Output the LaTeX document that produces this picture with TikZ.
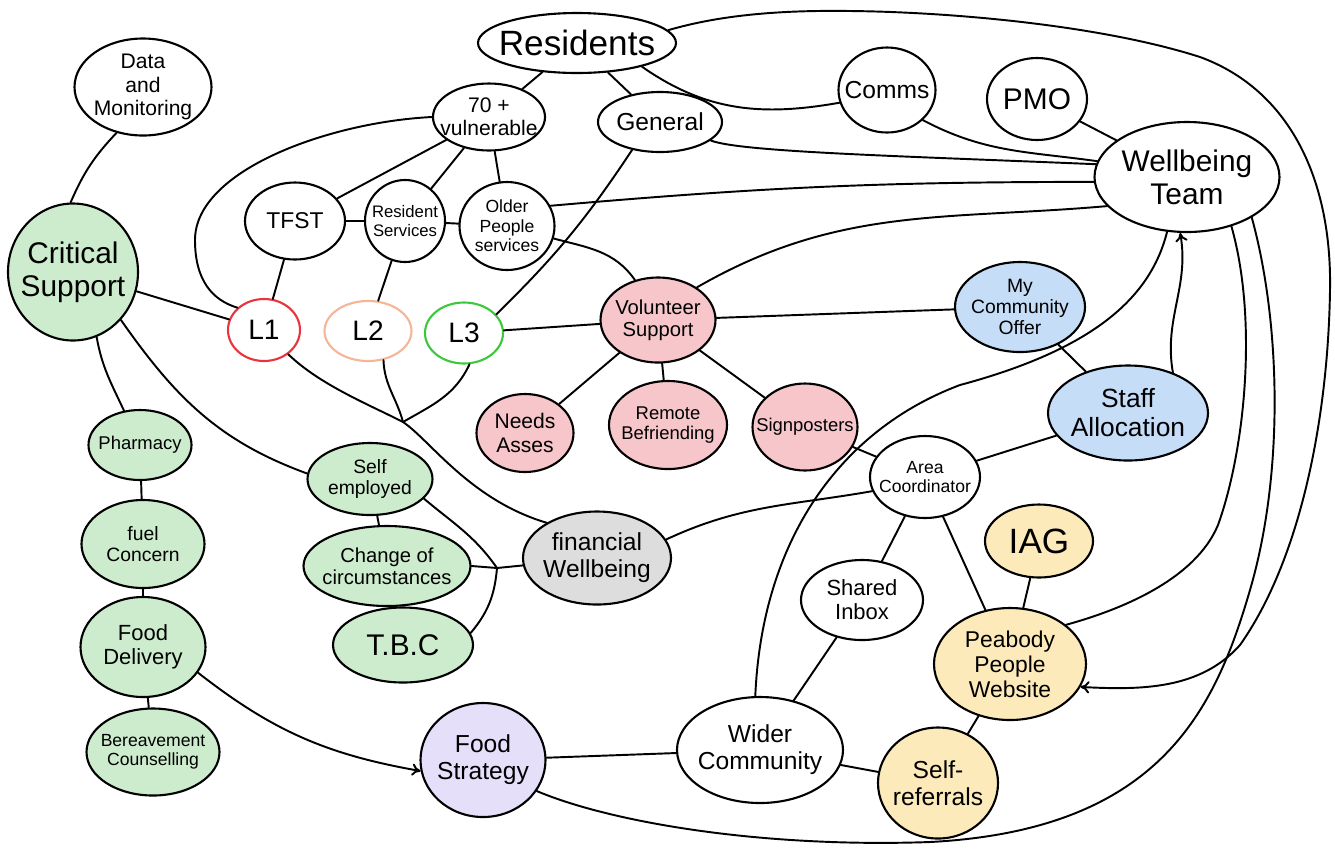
\documentclass[tikz,border=0pt]{standalone}
\usepackage{fontspec}
\setmainfont{Liberation Sans}
\usetikzlibrary{shapes.geometric,arrows.meta}
\definecolor{gfill}{RGB}{205,236,205}
\definecolor{pfill}{RGB}{246,198,202}
\definecolor{bfill}{RGB}{198,221,248}
\definecolor{grfill}{RGB}{221,221,221}
\definecolor{yfill}{RGB}{252,234,186}
\definecolor{vfill}{RGB}{229,223,250}
\definecolor{lred}{RGB}{232,52,60}
\definecolor{lorange}{RGB}{245,182,152}
\definecolor{lgreen}{RGB}{60,200,60}
\begin{document}
\begin{tikzpicture}[x=0.02cm,y=-0.02cm,
  bub/.style={ellipse,draw,line width=1.2pt,inner sep=-8pt,align=center},
  sz/.style 2 args={minimum width=#1*0.02cm,minimum height=#2*0.02cm},
  fsz/.style={font=\linespread{1.1}\fontsize{#1}{#1}\selectfont},
  grn/.style={fill=gfill},
  pnk/.style={fill=pfill},
  blu/.style={fill=bfill},
  gry/.style={fill=grfill},
  ylw/.style={fill=yfill},
  prp/.style={fill=vfill},
  link/.style={line width=1.1pt,line cap=round},
  tipend/.style={-{To[length=5pt,width=7pt]}},
  tipstart/.style={{To[length=5pt,width=7pt]}-}
]
\fill[white] (0,0) rectangle (1335,850);
\useasboundingbox (0,0) rectangle (1335,850);

% nodes
\node[bub,sz={137}{97},fsz=12] (dm) at (143,87) {Data\\and\\Monitoring};
\node[bub,grn,sz={130}{137},fsz=17] (cs) at (73,272) {Critical\\Support};
\node[bub,sz={198}{60},fsz=20] (res) at (577,43) {Residents};
\node[bub,sz={112}{67},fsz=12] (v70) at (489,117) {70 +\\vulnerable};
\node[bub,sz={124}{60},fsz=14] (gen) at (660,122) {General};
\node[bub,sz={97}{85},fsz=14] (comms) at (887,90) {Comms};
\node[bub,sz={100}{82},fsz=17] (pmo) at (1037,99) {PMO};
\node[bub,sz={185}{110},fsz=17] (wb) at (1187,177) {Wellbeing\\Team};
\node[bub,sz={100}{77},fsz=13] (tfst) at (295,221) {TFST};
\node[bub,sz={80}{82},fsz=9.5] (rs) at (405,221) {Resident\\Services};
\node[bub,sz={95}{88},fsz=10] (ops) at (507,226) {Older\\People\\services};
\node[bub,draw=lred,sz={72}{62},fsz=16] (l1) at (264,330) {L1};
\node[bub,draw=lorange,sz={87}{60},fsz=16] (l2) at (368,331) {L2};
\node[bub,draw=lgreen,sz={78}{61},fsz=16] (l3) at (464,333) {L3};
\node[bub,pnk,sz={115}{85},fsz=11.5] (vs) at (658,320) {Volunteer\\Support};
\node[bub,blu,sz={130}{90},fsz=11] (mco) at (1020,307) {My\\Community\\Offer};
\node[bub,blu,sz={160}{95},fsz=15] (sa) at (1128,413) {Staff\\Allocation};
\node[bub,pnk,sz={97}{78},fsz=12] (na) at (525,433) {Needs\\Asses};
\node[bub,pnk,sz={118}{88},fsz=10.5] (rb) at (668,425) {Remote\\Befriending};
\node[bub,pnk,sz={105}{87},fsz=10.5] (sp) at (805,427) {Signposters};
\node[bub,sz={110}{82},fsz=10] (ac) at (925,477) {Area\\Coordinator};
\node[bub,grn,sz={103}{70},fsz=10.5] (ph) at (140,445) {Pharmacy};
\node[bub,grn,sz={123}{88},fsz=11] (fc) at (143,544) {fuel\\Concern};
\node[bub,grn,sz={125}{100},fsz=12.5] (fd) at (143,647) {Food\\Delivery};
\node[bub,grn,sz={133}{87},fsz=10] (bc) at (153,752) {Bereavement\\Counselling};
\node[bub,grn,sz={125}{72},fsz=11] (se) at (370,479) {Self\\employed};
\node[bub,grn,sz={167}{80},fsz=11.5] (cc) at (387,566) {Change of\\circumstances};
\node[bub,grn,sz={140}{75},fsz=17] (tbc) at (403,645) {T.B.C};
\node[bub,gry,sz={148}{93},fsz=14] (fw) at (597,558) {financial\\Wellbeing};
\node[bub,ylw,sz={108}{73},fsz=20] (iag) at (1039,541) {IAG};
\node[bub,sz={122}{80},fsz=12.5] (si) at (862,600) {Shared\\Inbox};
\node[bub,ylw,sz={152}{112},fsz=13] (pw) at (1010,664) {Peabody\\People\\Website};
\node[bub,sz={166}{106},fsz=14] (wc) at (760,750) {Wider\\Community};
\node[bub,ylw,sz={120}{111},fsz=14] (sr) at (938,783) {Self-\\referrals};
\node[bub,prp,sz={125}{114},fsz=14] (fs) at (483,760) {Food\\Strategy};

\coordinate (J) at (403,422);
\coordinate (K) at (497,568);

% connectors, left part
\draw[link] (dm.240) to[bend right=10] (cs.92);
\draw[link] (cs) -- (l1);
\draw[link] (cs.-70) to[out=-80,in=115] (ph.115);
\draw[link] (cs.-45) to[out=-55,in=160] (se.175);
\draw[link] (ph) -- (fc);
\draw[link] (fc) -- (fd);
\draw[link] (fd) -- (bc);
\draw[link,tipend] (fd.-25) to[out=-38,in=170] (fs.190);

% residents
\draw[link] (res) -- (v70);
\draw[link] (res) -- (gen);
\draw[link] (res.-20) to[out=-35,in=190] (comms.195);
\draw[link,tipend] (res.8) .. controls (720,15) and (780,10) .. (850,11)
  .. controls (950,12) and (1100,25) .. (1200,57)
  .. controls (1290,90) and (1332,180) .. (1330,290)
  .. controls (1328,420) and (1300,560) .. (1240,645)
  .. controls (1200,690) and (1140,690) .. (pw.-18);

% 70+ group
\draw[link] (v70) -- (tfst);
\draw[link] (v70) -- (rs);
\draw[link] (v70) -- (ops);
\draw[link] (v70.180) .. controls (330,122) and (195,170) .. (195,240)
  .. controls (195,280) and (212,300) .. (l1.140);
\draw[link] (tfst) -- (rs);
\draw[link] (rs) -- (ops);
\draw[link] (tfst) -- (l1);
\draw[link] (rs) -- (l2);
\draw[link] (gen.225) to[bend left=6] (l3.30);

% to wellbeing team
\draw[link] (gen.-20) .. controls (740,152) and (900,156) .. (wb.172);
\draw[link] (comms.-40) to[out=-28,in=172] (wb.170);
\draw[link] (pmo) -- (wb);
\draw[link] (ops.25) to[out=5,in=180] (wb.183);
\draw[link] (vs.40) to[out=30,in=185] (wb.200);
\draw[link,tipstart] (wb.263) to[out=-80,in=100] (sa.42);
\draw[link] (wb.250) .. controls (1150,300) and (1090,350) .. (960,385)
  .. controls (840,430) and (762,540) .. (wc.95);
\draw[link] (wb.-48) .. controls (1258,320) and (1245,450) .. (1218,525)
  .. controls (1195,580) and (1120,610) .. (pw.35);
\draw[link] (wb.-32) .. controls (1280,320) and (1285,470) .. (1250,590)
  .. controls (1215,710) and (1160,830) .. (930,842)
  .. controls (760,848) and (610,822) .. (fs.-30);

% volunteer support
\draw[link] (ops.-15) to[out=-15,in=125] (vs.120);
\draw[link] (l3) -- (vs);
\draw[link] (vs) -- (mco);
\draw[link] (vs) -- (na);
\draw[link] (vs) -- (rb);
\draw[link] (vs) -- (sp);
\draw[link] (sp) -- (ac);
\draw[link] (mco) -- (sa);
\draw[link] (sa) -- (ac);

% lower right
\draw[link] (ac) -- (si);
\draw[link] (ac) -- (pw);
\draw[link] (iag) -- (pw);
\draw[link] (si) -- (wc);
\draw[link] (wc) -- (fs);
\draw[link] (wc) -- (sr);
\draw[link] (sr) -- (pw);
\draw[link] (fw.15) to[out=25,in=190] (ac.195);

% L1, L2, L3 junction
\draw[link] (l1.-45) .. controls (320,385) and (370,405) .. (J)
  .. controls (430,440) and (470,500) .. (fw.145);
\draw[link] (l2.-62) to[out=-88,in=105] (J);
\draw[link] (l3.-80) to[out=-115,in=30] (J);

% self employed cluster
\draw[link] (se) -- (cc);
\draw[link] (cc) -- (tbc);
\draw[link] (se.-20) to[out=-40,in=125] (K);
\draw[link] (cc.east) -- (K);
\draw[link] (K) -- (fw);
\draw[link] (K) to[out=-95,in=50] (tbc.10);
\end{tikzpicture}
\end{document}
